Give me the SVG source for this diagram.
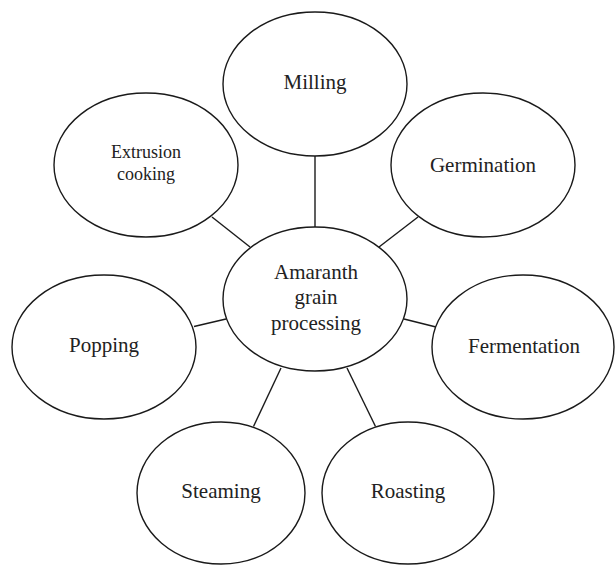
<svg xmlns="http://www.w3.org/2000/svg" width="615" height="565" viewBox="0 0 615 565">
<style>
.n{fill:#fff;stroke:#1a1a1a;stroke-width:1.4}
.c{stroke:#1a1a1a;stroke-width:1.4;fill:none}
text{font-family:"Liberation Serif","Times New Roman",serif;font-size:21px;fill:#222;text-anchor:middle}
.s{font-size:18px}
</style>
<rect width="615" height="565" fill="#fff"/>
<g id="connectors">
<line class="c" x1="315" y1="156" x2="315" y2="228"/>
<line class="c" x1="212" y1="217" x2="250" y2="247"/>
<line class="c" x1="418" y1="217" x2="379" y2="247"/>
<line class="c" x1="194" y1="326.5" x2="226" y2="319"/>
<line class="c" x1="404" y1="319" x2="436" y2="327"/>
<line class="c" x1="281" y1="368" x2="253.5" y2="426.5"/>
<line class="c" x1="347" y1="368" x2="375.5" y2="426.5"/>
</g>
<g id="center">
<ellipse class="n" cx="315" cy="299" rx="92" ry="72"/>
<text x="316" y="279">Amaranth</text>
<text x="316" y="304">grain</text>
<text x="316" y="330">processing</text>
</g>
<g id="milling">
<ellipse class="n" cx="315" cy="84" rx="92" ry="72"/>
<text x="315" y="89">Milling</text>
</g>
<g id="extrusion">
<ellipse class="n" cx="146" cy="165" rx="92" ry="72"/>
<text class="s" x="146" y="158">Extrusion</text>
<text class="s" x="146" y="180">cooking</text>
</g>
<g id="germination">
<ellipse class="n" cx="483" cy="165" rx="92" ry="72"/>
<text x="483" y="172">Germination</text>
</g>
<g id="popping">
<ellipse class="n" cx="104" cy="347" rx="92" ry="72"/>
<text x="104" y="352">Popping</text>
</g>
<g id="fermentation">
<ellipse class="n" cx="523" cy="347" rx="91" ry="72"/>
<text x="524" y="353">Fermentation</text>
</g>
<g id="steaming">
<ellipse class="n" cx="221" cy="493" rx="84" ry="71"/>
<text x="221" y="498">Steaming</text>
</g>
<g id="roasting">
<ellipse class="n" cx="408" cy="493" rx="86" ry="71"/>
<text x="408" y="498">Roasting</text>
</g>
</svg>
